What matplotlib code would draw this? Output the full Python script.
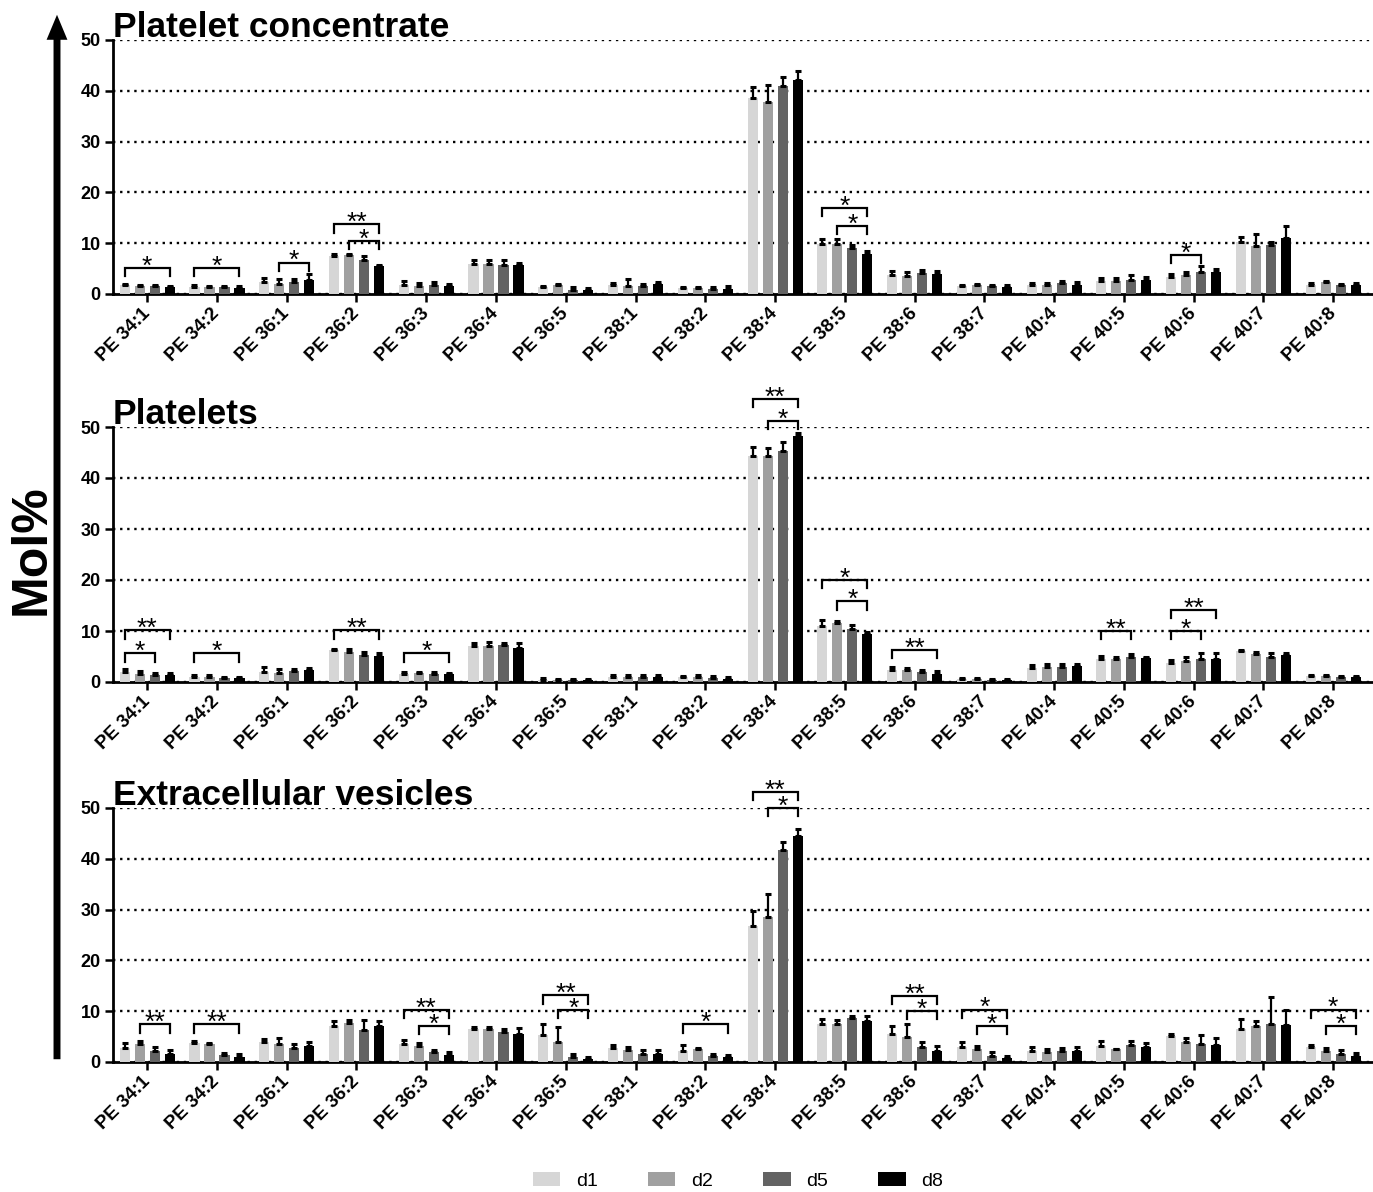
import numpy as np
import matplotlib
matplotlib.use("Agg")
import matplotlib.pyplot as plt
from matplotlib.patches import Patch, FancyArrowPatch

plt.rcParams['font.family'] = ['Liberation Sans', 'DejaVu Sans']

categories = ['PE 34:1', 'PE 34:2', 'PE 36:1', 'PE 36:2', 'PE 36:3', 'PE 36:4',
              'PE 36:5', 'PE 38:1', 'PE 38:2', 'PE 38:4', 'PE 38:5', 'PE 38:6',
              'PE 38:7', 'PE 40:4', 'PE 40:5', 'PE 40:6', 'PE 40:7', 'PE 40:8']
days = ['d1', 'd2', 'd5', 'd8']
day_colors = ['#d6d6d6', '#a0a0a0', '#636363', '#000000']
panel_titles = ['Platelet concentrate', 'Platelets', 'Extracellular vesicles']

# mean Mol% per day (rows: d1, d2, d5, d8)
pc_mean = [
    [1.7, 1.4, 2.4, 7.5, 1.8, 6.0, 1.4, 1.8, 1.1, 38.5, 9.8, 3.7, 1.5, 1.7, 2.6, 3.3, 10.2, 1.8],
    [1.5, 1.3, 2.0, 7.6, 1.5, 6.0, 1.7, 1.6, 1.1, 37.7, 9.8, 3.6, 1.7, 1.8, 2.6, 3.7, 9.5, 2.3],
    [1.5, 1.4, 2.3, 6.7, 1.8, 5.8, 0.85, 1.6, 1.0, 41.0, 9.0, 4.1, 1.5, 2.2, 2.7, 4.3, 9.7, 1.7],
    [1.3, 1.2, 2.8, 5.6, 1.6, 5.8, 0.8, 2.0, 1.0, 42.1, 7.9, 4.0, 1.4, 1.8, 2.7, 4.3, 11.1, 1.7],
]
pc_err = [
    [0.3, 0.3, 0.8, 0.4, 0.8, 0.6, 0.2, 0.3, 0.3, 2.3, 1.1, 0.8, 0.25, 0.5, 0.5, 0.7, 1.1, 0.3],
    [0.3, 0.3, 1.0, 0.3, 0.7, 0.7, 0.2, 1.4, 0.3, 3.5, 1.0, 0.8, 0.3, 0.4, 0.6, 0.7, 2.4, 0.3],
    [0.3, 0.2, 0.7, 0.7, 0.5, 0.9, 0.5, 0.4, 0.3, 1.8, 0.6, 0.7, 0.3, 0.3, 1.0, 1.2, 0.5, 0.3],
    [0.3, 0.3, 1.1, 0.2, 0.3, 0.4, 0.3, 0.4, 0.5, 1.7, 0.6, 0.6, 0.4, 0.5, 0.7, 0.7, 2.2, 0.5],
]
plt_mean = [
    [2.0, 1.0, 2.0, 6.2, 1.6, 7.0, 0.4, 1.05, 0.9, 44.4, 11.0, 2.4, 0.5, 2.8, 4.5, 3.7, 6.0, 1.2],
    [1.6, 1.0, 1.8, 5.8, 1.7, 7.1, 0.35, 1.0, 1.0, 44.4, 11.5, 2.4, 0.5, 2.9, 4.6, 4.1, 5.4, 1.1],
    [1.3, 0.7, 2.2, 5.3, 1.6, 7.3, 0.35, 1.0, 0.8, 45.2, 10.3, 2.0, 0.45, 3.0, 4.9, 4.6, 5.0, 0.9],
    [1.3, 0.7, 2.4, 5.1, 1.5, 6.6, 0.35, 1.05, 0.65, 48.2, 9.4, 1.6, 0.4, 3.1, 4.8, 4.6, 5.2, 0.9],
]
plt_err = [
    [0.5, 0.3, 1.0, 0.3, 0.4, 0.6, 0.3, 0.3, 0.3, 1.6, 1.2, 0.5, 0.2, 0.5, 0.6, 0.6, 0.2, 0.2],
    [0.6, 0.3, 0.7, 0.6, 0.3, 0.7, 0.3, 0.3, 0.3, 1.4, 0.4, 0.4, 0.2, 0.6, 0.3, 0.8, 0.4, 0.2],
    [0.5, 0.3, 0.4, 0.6, 0.3, 0.3, 0.3, 0.3, 0.3, 1.9, 0.8, 0.4, 0.2, 0.5, 0.5, 1.1, 0.7, 0.2],
    [0.5, 0.3, 0.3, 0.6, 0.2, 1.0, 0.3, 0.3, 0.3, 0.6, 0.5, 0.5, 0.2, 0.4, 0.2, 1.1, 0.5, 0.2],
]
ev_mean = [
    [2.8, 3.8, 4.0, 7.1, 3.6, 6.4, 5.4, 2.7, 2.2, 26.8, 7.5, 5.5, 2.9, 2.2, 3.1, 5.1, 6.5, 2.9],
    [3.6, 3.5, 3.6, 7.6, 3.1, 6.4, 4.0, 2.4, 2.5, 28.5, 7.5, 5.0, 2.5, 2.0, 2.5, 3.9, 7.0, 2.2],
    [2.2, 1.4, 2.7, 6.3, 1.9, 6.0, 1.0, 1.6, 1.2, 41.8, 8.6, 2.9, 1.2, 2.2, 3.3, 3.6, 7.5, 1.6],
    [1.6, 1.0, 3.1, 7.1, 1.4, 5.6, 0.6, 1.6, 1.0, 44.5, 8.0, 2.1, 0.85, 2.2, 3.0, 3.3, 7.2, 1.1],
]
ev_err = [
    [1.0, 0.4, 0.5, 1.0, 0.7, 0.5, 2.0, 0.6, 1.1, 3.0, 0.9, 1.6, 1.0, 0.8, 1.0, 0.4, 2.0, 0.5],
    [0.5, 0.3, 1.2, 0.7, 0.7, 0.5, 2.9, 0.5, 0.2, 4.6, 0.7, 2.4, 0.6, 0.5, 0.1, 0.9, 1.0, 0.6],
    [0.7, 0.3, 0.8, 2.0, 0.5, 0.4, 0.6, 0.8, 0.3, 1.6, 0.5, 1.0, 0.8, 0.6, 0.9, 1.8, 5.3, 0.7],
    [0.8, 0.5, 0.9, 0.9, 0.6, 1.0, 0.3, 0.8, 0.3, 1.3, 1.0, 1.0, 0.4, 0.7, 0.8, 1.4, 3.0, 0.6],
]

# significance brackets: (category index, from day, to day, height, label)
pc_sig = [(0, 0, 3, 5.1, '*'), (1, 0, 3, 5.1, '*'), (2, 1, 3, 6.2, '*'),
          (3, 0, 3, 13.7, '**'), (3, 1, 3, 10.4, '*'), (10, 0, 3, 16.9, '*'),
          (10, 1, 3, 13.4, '*'), (15, 0, 2, 7.7, '*')]
plt_sig = [(0, 0, 3, 10.1, '**'), (0, 0, 2, 5.6, '*'), (1, 0, 3, 5.6, '*'),
           (3, 0, 3, 10.1, '**'), (4, 0, 3, 5.6, '*'), (9, 0, 3, 55.5, '**'),
           (9, 1, 3, 51.2, '*'), (10, 0, 3, 20.0, '*'), (10, 1, 3, 15.8, '*'),
           (11, 0, 3, 6.3, '**'), (14, 0, 2, 10.0, '**'), (15, 0, 3, 14.1, '**'),
           (15, 0, 2, 10.0, '*')]
ev_sig = [(0, 1, 3, 7.4, '**'), (1, 0, 3, 7.4, '**'), (4, 0, 3, 10.2, '**'),
          (4, 1, 3, 7.1, '*'), (6, 0, 3, 13.1, '**'), (6, 1, 3, 10.2, '*'),
          (8, 0, 3, 7.4, '*'), (9, 0, 3, 53.1, '**'), (9, 1, 3, 50.0, '*'),
          (11, 0, 3, 13.0, '**'), (11, 1, 3, 10.0, '*'), (12, 0, 3, 10.3, '*'),
          (12, 1, 3, 7.1, '*'), (17, 0, 3, 10.3, '*'), (17, 1, 3, 7.1, '*')]

panels = [(pc_mean, pc_err, pc_sig), (plt_mean, plt_err, plt_sig), (ev_mean, ev_err, ev_sig)]

W, H = 1373, 1192
fig = plt.figure(figsize=(W / 100, H / 100), dpi=100)

ax_left = 113 / W
ax_width = (W - 113) / W
# (top pixel of 50, bottom pixel of 0) for each panel
panel_px = [(40, 294), (427, 682), (808, 1062)]

x = np.arange(len(categories))
step = 0.215
bar_w = 0.145
offsets = (np.arange(4) - 1.5) * step

for (mean, err, sig), title, (ptop, pbot) in zip(panels, panel_titles, panel_px):
    ax = fig.add_axes([ax_left, 1 - pbot / H, ax_width, (pbot - ptop) / H])
    for k in range(4):
        ax.bar(x + offsets[k], mean[k], width=bar_w, color=day_colors[k],
               edgecolor='none', zorder=3)
        ax.errorbar(x + offsets[k], mean[k], yerr=[np.zeros(len(x)), err[k]],
                    fmt='none', ecolor='black', elinewidth=1.6, capsize=2.5,
                    capthick=2.2, zorder=4)
    for ci, a, b, yy, lab in sig:
        x0 = ci + offsets[a]
        x1 = ci + offsets[b]
        ax.plot([x0, x0, x1, x1], [yy - 1.6, yy, yy, yy - 1.6], color='black',
                lw=1.6, clip_on=False, zorder=5, solid_joinstyle='miter')
        ax.annotate(lab, xy=((x0 + x1) / 2, yy), xytext=(0, -4),
                    textcoords='offset points', ha='center', va='baseline',
                    fontsize=19, annotation_clip=False)

    ax.set_xlim(-0.49, 17.57)
    ax.set_ylim(0, 50)
    ax.set_yticks(range(0, 51, 10))
    ax.yaxis.grid(True, linestyle=(0, (1, 2)), color='black', lw=1.7, zorder=0)
    ax.set_axisbelow(True)
    ax.set_xticks(x)
    ax.set_xticklabels(categories, rotation=45, ha='right', va='center',
                       rotation_mode='anchor', fontsize=13.5, fontweight='bold')
    for lbl in ax.get_yticklabels():
        lbl.set_fontsize(13)
        lbl.set_fontweight('bold')
    ax.tick_params(axis='both', direction='out', length=6, width=1.8)
    ax.tick_params(axis='x', pad=6)
    ax.tick_params(axis='y', pad=3)
    for side in ['top', 'right']:
        ax.spines[side].set_visible(False)
    for side in ['left', 'bottom']:
        ax.spines[side].set_linewidth(2.0)
    ax.patch.set_alpha(0)
    ax.text(0.0, 1.012, title, transform=ax.transAxes, ha='left', va='baseline',
            fontsize=25.5, fontweight='bold')

# big axis arrow and label
fig.add_artist(FancyArrowPatch(
    (57 / W, 1 - 1062 / H), (57 / W, 1 - 12 / H), transform=fig.transFigure,
    arrowstyle='simple,head_width=0.75,head_length=0.9,tail_width=0.25',
    mutation_scale=20, color='black', lw=0))
fig.text(32 / W, 1 - 550 / H, 'Mol%', rotation=90, ha='center', va='center',
         fontsize=36, fontweight='bold')

handles = [Patch(facecolor=c, edgecolor='none', label=d) for c, d in zip(day_colors, days)]
fig.legend(handles=handles, loc='center', bbox_to_anchor=(738 / W, 1 - 1181 / H),
           ncol=4, frameon=False, fontsize=14, handlelength=1.4, handleheight=0.7,
           handletextpad=0.8, columnspacing=2.6)

fig.savefig('out.png', dpi=100)
